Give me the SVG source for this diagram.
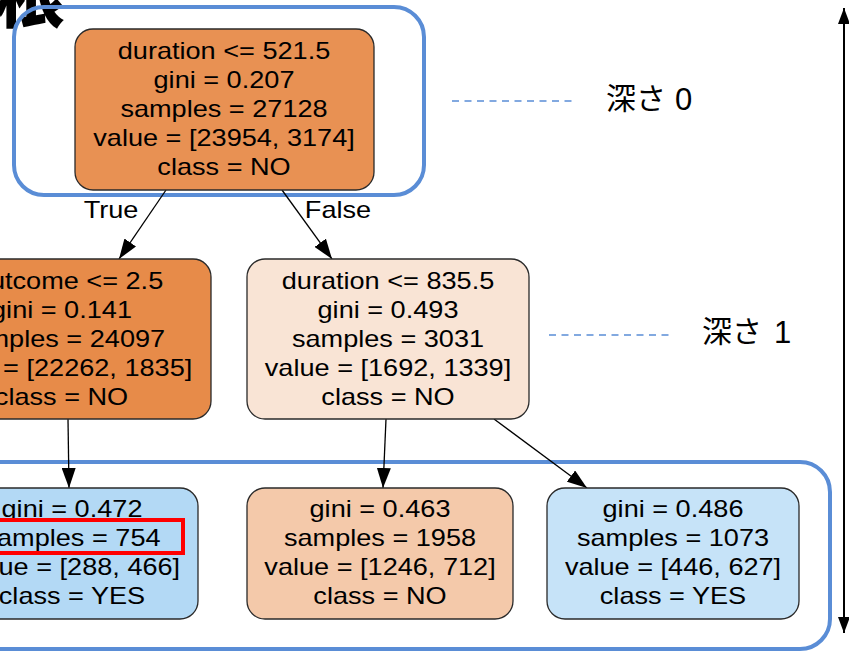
<svg xmlns="http://www.w3.org/2000/svg" width="849" height="651" viewBox="0 0 849 651">
  <style>
    .node { stroke: #2a2a2a; stroke-width: 1.3; }
    .nt { font-family: "Liberation Sans", Arial, Helvetica, sans-serif; font-size: 24px; text-anchor: middle; fill: #000; }
    .edge { stroke: #000; stroke-width: 1.3; fill: none; }
    .frame { fill: none; stroke: #5a8dd6; stroke-width: 4; }
    .guide { stroke: #5a8dd6; stroke-width: 1.6; stroke-dasharray: 7 5.5; fill: none; }
    .jp { font-family: "Noto Sans CJK JP", "Noto Sans", sans-serif; font-size: 30px; fill: #000; }
    .num { font-family: "Liberation Sans", Arial, sans-serif; font-size: 31px; }
  </style>
  <defs>
    <marker id="head" markerUnits="userSpaceOnUse" markerWidth="20" markerHeight="14" refX="20" refY="7" orient="auto">
      <path d="M0,0 L20,7 L0,14 z" fill="#000"/>
    </marker>
    <marker id="axisHead" markerUnits="userSpaceOnUse" markerWidth="16" markerHeight="12" refX="16" refY="6" orient="auto-start-reverse">
      <path d="M0,0 L16,6 L0,12 z" fill="#000"/>
    </marker>
  </defs>

  <rect width="849" height="651" fill="#fff"/>

  <!-- root character in the corner -->
  <text x="-5" y="22" font-family="'Noto Sans CJK JP', sans-serif" font-size="70" font-weight="900" fill="#000">根</text>

  <!-- depth highlight frames -->
  <g id="frames">
    <rect class="frame" x="14" y="7" width="410" height="188" rx="30"/>
    <rect class="frame" x="-40" y="462" width="870" height="187" rx="30"/>
  </g>

  <!-- connectors -->
  <g id="connectors">
    <line class="edge" x1="166" y1="190" x2="119" y2="259" marker-end="url(#head)"/>
    <line class="edge" x1="282" y1="190" x2="332" y2="259" marker-end="url(#head)"/>
    <line class="edge" x1="68" y1="419" x2="69" y2="488" marker-end="url(#head)"/>
    <line class="edge" x1="386" y1="419" x2="383" y2="488" marker-end="url(#head)"/>
    <line class="edge" x1="494" y1="419" x2="587" y2="488" marker-end="url(#head)"/>
    <g transform="translate(111 0) scale(1.13 1)"><text class="nt" x="0" y="218">True</text></g>
    <g transform="translate(338 0) scale(1.13 1)"><text class="nt" x="0" y="218">False</text></g>
  </g>

  <!-- tree nodes -->
  <g id="node0">
    <rect class="node" x="75" y="29" width="299" height="161" rx="18" fill="#e89153"/>
    <g transform="translate(224 0) scale(1.13 1)">
      <text class="nt" x="0" y="59">duration &lt;= 521.5</text>
      <text class="nt" x="0" y="88">gini = 0.207</text>
      <text class="nt" x="0" y="117">samples = 27128</text>
      <text class="nt" x="0" y="146">value = [23954, 3174]</text>
      <text class="nt" x="0" y="175">class = NO</text>
    </g>
  </g>

  <g id="node1">
    <rect class="node" x="-89" y="259" width="300" height="160" rx="18" fill="#e78b49"/>
    <g transform="translate(61.5 0) scale(1.13 1)">
      <text class="nt" x="0" y="289">poutcome &lt;= 2.5</text>
      <text class="nt" x="0" y="318">gini = 0.141</text>
      <text class="nt" x="0" y="347">samples = 24097</text>
      <text class="nt" x="0" y="376">value = [22262, 1835]</text>
      <text class="nt" x="0" y="405">class = NO</text>
    </g>
  </g>

  <g id="node2">
    <rect class="node" x="247" y="259" width="282" height="160" rx="18" fill="#f9e4d5"/>
    <g transform="translate(388 0) scale(1.13 1)">
      <text class="nt" x="0" y="289">duration &lt;= 835.5</text>
      <text class="nt" x="0" y="318">gini = 0.493</text>
      <text class="nt" x="0" y="347">samples = 3031</text>
      <text class="nt" x="0" y="376">value = [1692, 1339]</text>
      <text class="nt" x="0" y="405">class = NO</text>
    </g>
  </g>

  <g id="node3">
    <rect class="node" x="-54" y="488" width="252" height="131" rx="18" fill="#b3d9f5"/>
    <g transform="translate(72 0) scale(1.13 1)">
      <text class="nt" x="0" y="517">gini = 0.472</text>
      <text class="nt" x="0" y="546">samples = 754</text>
      <text class="nt" x="0" y="575">value = [288, 466]</text>
      <text class="nt" x="0" y="604">class = YES</text>
    </g>
  </g>

  <g id="node4">
    <rect class="node" x="247" y="488" width="266" height="131" rx="18" fill="#f4c9aa"/>
    <g transform="translate(380 0) scale(1.13 1)">
      <text class="nt" x="0" y="517">gini = 0.463</text>
      <text class="nt" x="0" y="546">samples = 1958</text>
      <text class="nt" x="0" y="575">value = [1246, 712]</text>
      <text class="nt" x="0" y="604">class = NO</text>
    </g>
  </g>

  <g id="node5">
    <rect class="node" x="547" y="488" width="252" height="131" rx="18" fill="#c6e3f8"/>
    <g transform="translate(673 0) scale(1.13 1)">
      <text class="nt" x="0" y="517">gini = 0.486</text>
      <text class="nt" x="0" y="546">samples = 1073</text>
      <text class="nt" x="0" y="575">value = [446, 627]</text>
      <text class="nt" x="0" y="604">class = YES</text>
    </g>
  </g>

  <!-- highlight around the sample count of the left leaf -->
  <rect id="highlight" x="-10" y="520" width="193" height="33" fill="none" stroke="#ff0000" stroke-width="4"/>

  <!-- depth labels -->
  <g id="depth0">
    <line class="guide" x1="452" y1="101" x2="573" y2="101"/>
    <text class="jp" x="606" y="109">深さ<tspan class="num" x="675" y="110">0</tspan></text>
  </g>
  <g id="depth1">
    <line class="guide" x1="549" y1="335" x2="669" y2="335"/>
    <text class="jp" x="702" y="342">深さ <tspan class="num" x="774" y="343">1</tspan></text>
  </g>

  <!-- depth axis -->
  <g id="axis">
    <line x1="844" y1="8" x2="844" y2="633" stroke="#000" stroke-width="2" marker-start="url(#axisHead)" marker-end="url(#axisHead)"/>
  </g>
</svg>
